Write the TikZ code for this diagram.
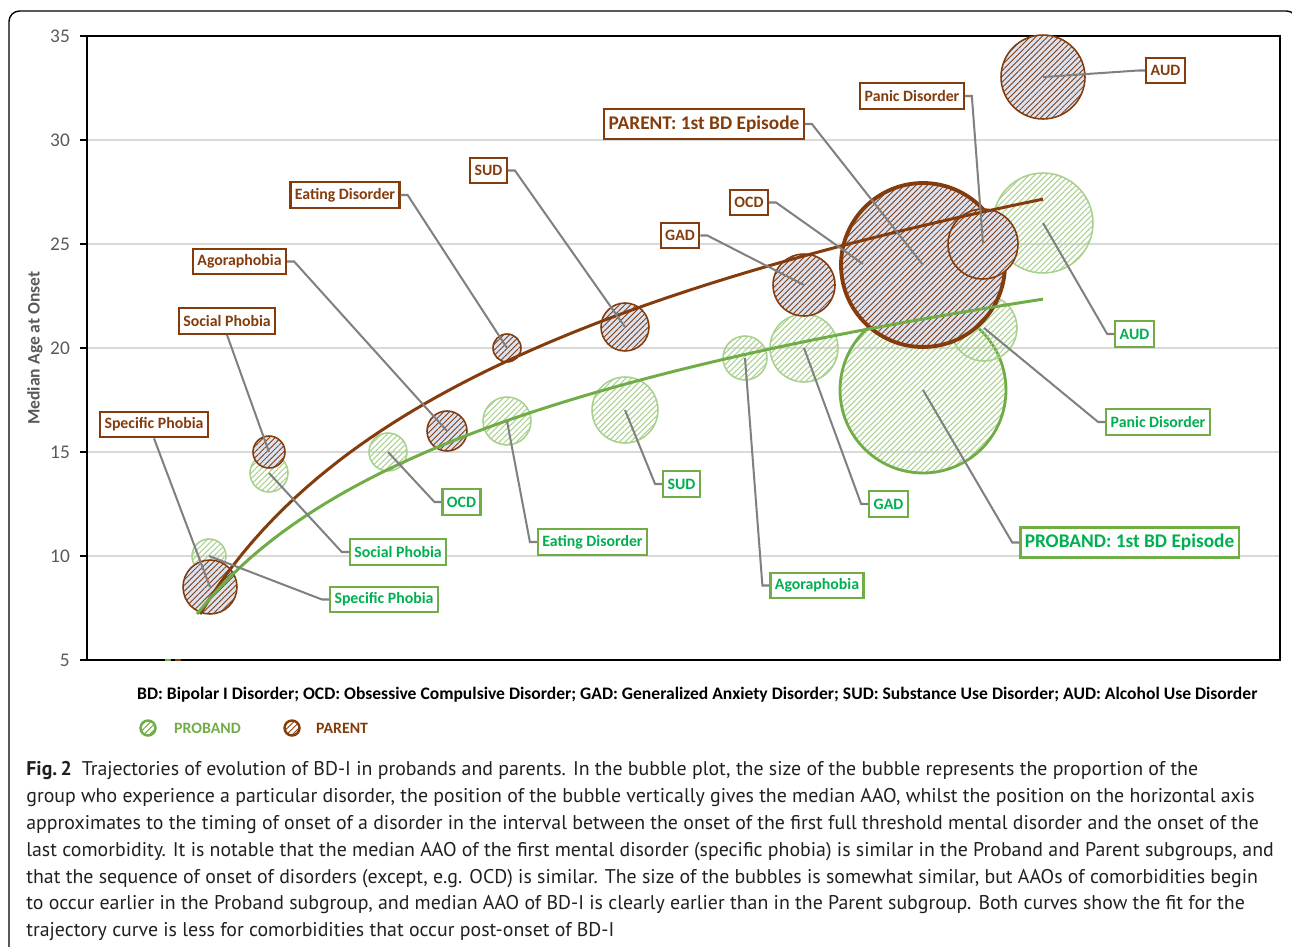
\documentclass[tikz,border=0pt]{standalone}
\usepackage{fontspec}
\setmainfont{Carlito}
\newfontfamily\capfont{PT Sans}
\usetikzlibrary{patterns.meta}

\definecolor{parbrown}{HTML}{843C0C}
\definecolor{probgreen}{HTML}{70AD47}
\definecolor{problight}{HTML}{A9D18E}
\definecolor{labgreen}{HTML}{00B050}
\definecolor{parfill}{HTML}{DAE3F3}
\definecolor{leadgray}{HTML}{808080}
\definecolor{gridgray}{HTML}{D9D9D9}
\definecolor{axisgray}{HTML}{595959}
\definecolor{capgray}{HTML}{231F20}

\tikzset{
  bubr/.style={minimum size=#1*0.04cm},
  parbub/.style={circle, draw=parbrown, line width=0.9pt, inner sep=0pt,
    preaction={fill=parfill},
    pattern={Lines[angle=45,distance=2.3pt,line width=0.5pt]}, pattern color=parbrown},
  probub/.style={circle, draw=problight, line width=0.9pt, inner sep=0pt,
    pattern={Lines[angle=45,distance=2.3pt,line width=0.6pt]}, pattern color=problight},
  parlab/.style={draw=parbrown, line width=1.3pt, fill=white, text=parbrown,
    font=\bfseries\fontsize{9}{9}\selectfont, inner xsep=2.5pt, inner ysep=0pt, minimum height=14.5pt},
  prolab/.style={parlab, draw=probgreen, text=labgreen},
  bdlab/.style={font=\bfseries\fontsize{11}{11}\selectfont, minimum height=17pt},
  leader/.style={draw=leadgray, line width=1.15pt},
}

\begin{document}
\begin{tikzpicture}[x=0.02cm, y=-0.02cm]
\useasboundingbox (0,0) rectangle (1292,947);
% outer frame
\draw[line width=0.8pt, rounded corners=6pt] (9,980) -- (9,11) -- (1297,11) -- (1297,980);

% grid and plot frame
\foreach \g in {140,244,348,452,556}
  \draw[gridgray, line width=0.8pt] (87,\g) -- (1280,\g);
\draw[line width=1pt] (87,36) rectangle (1280,660);
\foreach \g/\v in {36/35,140/30,244/25,348/20,452/15,556/10,660/5} {
  \draw[line width=0.8pt] (80,\g) -- (87,\g);
  \node[anchor=east, text=axisgray, font=\fontsize{11}{11}\selectfont] (t\v) at (76,\g) {\v};
}
\node[rotate=90, text=axisgray, font=\bfseries\fontsize{10}{10}\selectfont] (ytitle) at (35,348) {Median Age at Onset};
\draw[probgreen, line width=1.5pt] (165,660) -- (171,660);
\draw[parbrown, line width=1.5pt] (175,660) -- (181,660);

% proband bubbles
\node[probub, bubr=17] (gSP) at (209,556) {};
\node[probub, bubr=19] (gSoc) at (269,473) {};
\node[probub, bubr=19] (gOCD) at (388,452) {};
\node[probub, bubr=24] (gEat) at (507,421) {};
\node[probub, bubr=33] (gSUD) at (625,410) {};
\node[probub, bubr=22] (gAgo) at (745,358) {};
\node[probub, bubr=34] (gGAD) at (804,348) {};
\node[probub, bubr=83, draw=probgreen, line width=1.6pt] (gBD) at (923,390) {};
\node[probub, bubr=33] (gPan) at (984,328) {};
\node[probub, bubr=50] (gAUD) at (1043,223) {};

% parent bubbles
\node[parbub, bubr=27] (pSP) at (210,587) {};
\node[parbub, bubr=16] (pSoc) at (269,452) {};
\node[parbub, bubr=20] (pAgo) at (447,431) {};
\node[parbub, bubr=14] (pEat) at (507,348) {};
\node[parbub, bubr=24] (pSUD) at (625,327) {};
\node[parbub, bubr=31] (pGAD) at (804,285) {};
\node[parbub, bubr=11] (pOCD) at (863,264) {};
\node[parbub, bubr=82, line width=2.2pt] (pBD) at (923,265) {};
\node[parbub, bubr=35] (pPan) at (983,244) {};
\node[parbub, bubr=42] (pAUD) at (1043,77) {};

% trajectory curves
\draw[parbrown, line width=1.7pt] plot[domain=200:1043, samples=80] (\x,{1567.6-199.2*ln(\x-80)});
\draw[probgreen, line width=1.7pt] plot[domain=197:1043, samples=80] (\x,{1325.5-149.4*ln(\x-80)});

% parent labels
\node[parlab] (lpSP) at (154,424.5) {Specific Phobia};
\node[parlab] (lpSoc) at (227,321) {Social Phobia};
\node[parlab] (lpAgo) at (239.5,261.5) {Agoraphobia};
\node[parlab] (lpEat) at (345,195) {Eating Disorder};
\node[parlab] (lpSUD) at (488.5,170.5) {SUD};
\node[parlab] (lpGAD) at (680,235.5) {GAD};
\node[parlab] (lpOCD) at (749,202.5) {OCD};
\node[parlab, bdlab] (lpBD) at (704,124) {PARENT: 1st BD Episode};
\node[parlab] (lpPan) at (912,96) {Panic Disorder};
\node[parlab] (lpAUD) at (1165.5,70.5) {AUD};

% proband labels
\node[prolab] (lgSP) at (384,599.5) {Specific Phobia};
\node[prolab] (lgSoc) at (398,552) {Social Phobia};
\node[prolab] (lgOCD) at (461.5,502) {OCD};
\node[prolab] (lgEat) at (592.5,542) {Eating Disorder};
\node[prolab] (lgSUD) at (681.5,484) {SUD};
\node[prolab] (lgAgo) at (817,585.5) {Agoraphobia};
\node[prolab] (lgGAD) at (888.5,504) {GAD};
\node[prolab, bdlab] (lgBD) at (1129.5,542.5) {PROBAND: 1st BD Episode};
\node[prolab] (lgPan) at (1158,422) {Panic Disorder};
\node[prolab] (lgAUD) at (1134.5,334) {AUD};

% leaders
\draw[leader] (lpSP.south) -- (pSP.center);
\draw[leader] (lpSoc.south) -- (pSoc.center);
\draw[leader] (lpAgo.east) -- ++(7,0) -- (pAgo.center);
\draw[leader] (lpEat.east) -- ++(7,0) -- (pEat.center);
\draw[leader] (lpSUD.east) -- ++(7,0) -- (pSUD.center);
\draw[leader] (lpGAD.east) -- ++(7,0) -- (pGAD.center);
\draw[leader] (lpOCD.east) -- ++(7,0) -- (pOCD.center);
\draw[leader] (lpBD.east) -- ++(7,0) -- (pBD.center);
\draw[leader] (lpPan.east) -- ++(7,0) -- (pPan.center);
\draw[leader] (lpAUD.west) -- ++(-7,0) -- (pAUD.center);
\draw[leader] (lgSP.west) -- ++(-7,0) -- (gSP.center);
\draw[leader] (lgSoc.west) -- ++(-7,0) -- (gSoc.center);
\draw[leader] (lgOCD.west) -- ++(-7,0) -- (gOCD.center);
\draw[leader] (lgEat.west) -- ++(-7,0) -- (gEat.center);
\draw[leader] (lgSUD.west) -- ++(-7,0) -- (gSUD.center);
\draw[leader] (lgAgo.west) -- ++(-7,0) -- (gAgo.center);
\draw[leader] (lgGAD.west) -- ++(-7,0) -- (gGAD.center);
\draw[leader] (lgBD.west) -- ++(-7,0) -- (gBD.center);
\draw[leader] (lgPan.west) -- ++(-7,0) -- (gPan.center);
\draw[leader] (lgAUD.west) -- ++(-7,0) -- (gAUD.center);

% footnote and legend
\node[anchor=west, font=\bfseries\fontsize{10}{10}\selectfont] (foot) at (131,695)
  {BD: Bipolar I Disorder; OCD: Obsessive Compulsive Disorder; GAD: Generalized Anxiety Disorder; SUD: Substance Use Disorder; AUD: Alcohol Use Disorder};
\node[probub, bubr=7.5, draw=probgreen, line width=1.4pt, pattern color=probgreen] (legpro) at (148,728) {};
\node[anchor=west, text=probgreen, font=\bfseries\fontsize{9}{9}\selectfont] (legprot) at (168,728) {PROBAND};
\node[parbub, bubr=7.5, line width=1.4pt, preaction={fill=white}] (legpar) at (292,728) {};
\node[anchor=west, text=parbrown, font=\bfseries\fontsize{9}{9}\selectfont] (legpart) at (310,728) {PARENT};

% caption
\node[anchor=north west, align=left, inner sep=0pt, text=capgray, font=\capfont\fontsize{11.3}{15.3}\selectfont] (cap) at (26,761)
  {{\bfseries Fig.\,2}\enspace Trajectories of evolution of BD-I in probands and parents. In the bubble plot, the size of the bubble represents the proportion of the\\
   group who experience a particular disorder, the position of the bubble vertically gives the median AAO, whilst the position on the horizontal axis\\
   approximates to the timing of onset of a disorder in the interval between the onset of the first full threshold mental disorder and the onset of the\\
   last comorbidity. It is notable that the median AAO of the first mental disorder (specific phobia) is similar in the Proband and Parent subgroups, and\\
   that the sequence of onset of disorders (except, e.g. OCD) is similar. The size of the bubbles is somewhat similar, but AAOs of comorbidities begin\\
   to occur earlier in the Proband subgroup, and median AAO of BD-I is clearly earlier than in the Parent subgroup. Both curves show the fit for the\\
   trajectory curve is less for comorbidities that occur post-onset of BD-I};
\end{tikzpicture}
\end{document}
